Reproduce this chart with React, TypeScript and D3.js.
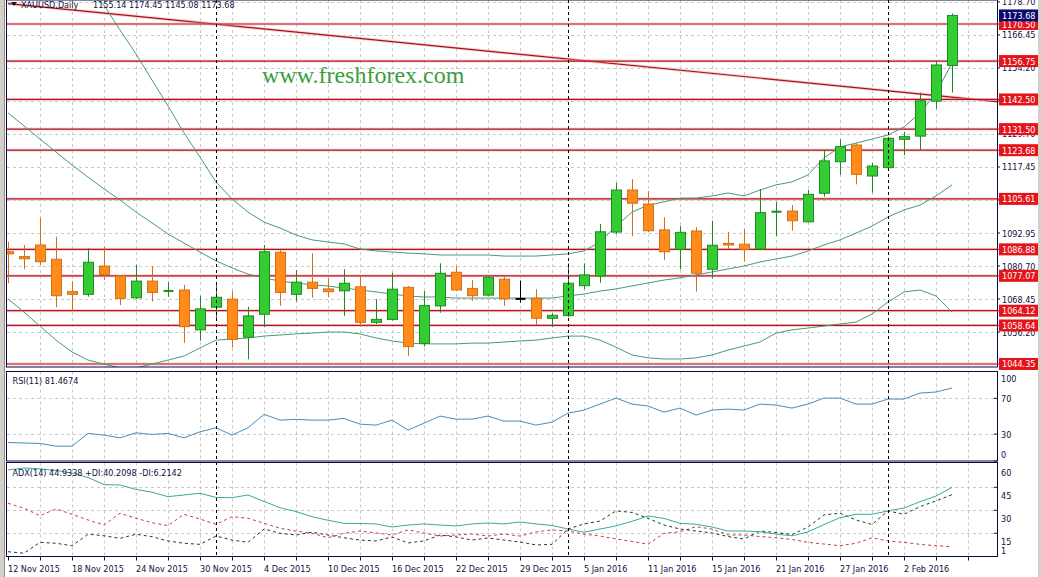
import React from 'react';
import * as d3 from 'd3';

const dates = [
  '12 Nov 2015','13 Nov 2015','16 Nov 2015','17 Nov 2015','18 Nov 2015','19 Nov 2015','20 Nov 2015','23 Nov 2015','24 Nov 2015','25 Nov 2015',
  '26 Nov 2015','27 Nov 2015','30 Nov 2015','1 Dec 2015','2 Dec 2015','3 Dec 2015','4 Dec 2015','7 Dec 2015','8 Dec 2015','9 Dec 2015',
  '10 Dec 2015','11 Dec 2015','14 Dec 2015','15 Dec 2015','16 Dec 2015','17 Dec 2015','18 Dec 2015','21 Dec 2015','22 Dec 2015','23 Dec 2015',
  '24 Dec 2015','28 Dec 2015','29 Dec 2015','30 Dec 2015','31 Dec 2015','4 Jan 2016','5 Jan 2016','6 Jan 2016','7 Jan 2016','8 Jan 2016',
  '11 Jan 2016','12 Jan 2016','13 Jan 2016','14 Jan 2016','15 Jan 2016','18 Jan 2016','19 Jan 2016','20 Jan 2016','21 Jan 2016','22 Jan 2016',
  '25 Jan 2016','26 Jan 2016','27 Jan 2016','28 Jan 2016','29 Jan 2016','1 Feb 2016','2 Feb 2016','3 Feb 2016','4 Feb 2016','5 Feb 2016',
];

const open = [1086.0,1084.2,1088.5,1083.2,1071.2,1070.2,1080.7,1077.0,1068.9,1075.1,1071.2,1071.8,1057.0,1065.4,1068.4,1054.3,1062.8,1085.8,1070.2,1074.7,1072.2,1071.5,1073.0,1059.8,1060.9,1072.8,1052.0,1065.9,1078.4,1072.4,1069.9,1075.8,1068.5,1068.7,1061.3,1062.3,1073.4,1077.0,1093.3,1108.9,1103.7,1094.1,1086.9,1093.7,1079.5,1089.1,1088.8,1087.0,1100.8,1101.1,1097.1,1107.7,1119.4,1125.6,1114.1,1117.2,1127.7,1128.9,1141.9,1155.14];
const high = [1089.7,1088.5,1098.5,1091.6,1075.1,1087.3,1087.9,1077.3,1081.1,1080.7,1074.9,1073.7,1069.6,1074.7,1071.4,1065.6,1088.5,1086.6,1079.2,1085.4,1076.1,1079.5,1077.0,1068.4,1078.2,1073.3,1071.4,1081.7,1080.7,1075.5,1076.7,1076.7,1075.3,1072.1,1063.2,1081.7,1081.7,1096.3,1111.5,1112.9,1108.5,1098.8,1095.6,1095.1,1097.5,1093.4,1094.4,1109.2,1104.6,1103.3,1108.9,1123.8,1127.7,1126.3,1118.9,1128.6,1130.5,1145.0,1156.9,1174.45];
const low = [1074.3,1079.5,1081.1,1065.4,1064.1,1069.3,1075.5,1066.2,1068.4,1067.5,1069.3,1052.2,1053.0,1061.3,1050.5,1046.1,1058.0,1066.0,1067.5,1068.9,1069.1,1062.2,1058.2,1059.2,1060.4,1047.3,1050.8,1063.4,1071.4,1067.8,1069.7,1065.9,1067.1,1058.8,1058.0,1061.8,1072.1,1074.5,1092.6,1091.8,1093.2,1082.9,1079.5,1071.2,1076.1,1086.9,1082.3,1086.9,1091.8,1093.8,1096.8,1106.4,1114.5,1111.0,1107.9,1117.1,1121.9,1123.8,1139.0,1145.08];
const close = [1085.2,1083.4,1082.3,1069.7,1070.2,1082.1,1077.6,1068.7,1075.1,1070.9,1071.7,1058.2,1064.8,1069.1,1053.5,1062.2,1086.0,1070.9,1074.7,1072.4,1071.2,1074.3,1059.8,1060.9,1072.1,1050.8,1066.0,1078.0,1071.8,1069.7,1076.5,1068.5,1068.5,1061.3,1062.4,1074.3,1077.4,1093.4,1108.9,1104.0,1093.8,1086.0,1093.2,1078.0,1088.4,1088.5,1086.9,1100.5,1100.9,1097.5,1107.3,1119.7,1125.0,1114.7,1117.8,1128.1,1128.7,1142.0,1155.3,1173.68];

const bbUpper = [1201.7,1198.0,1194.2,1190.5,1186.8,1182.4,1177.5,1168.3,1159.4,1149.7,1140.1,1130.1,1121.1,1111.9,1105.6,1100.7,1097.0,1094.8,1092.2,1090.4,1089.6,1088.9,1087.0,1086.3,1085.9,1085.5,1085.2,1084.8,1084.8,1084.8,1084.8,1084.4,1084.4,1084.4,1084.8,1085.2,1086.3,1089.6,1095.5,1100.7,1103.3,1104.5,1105.9,1105.9,1106.7,1107.8,1106.7,1108.9,1110.8,1111.9,1114.5,1120.8,1124.9,1126.3,1127.8,1129.3,1132.3,1137.5,1144.9,1156.0];
const bbMiddle = [1137.5,1132.7,1127.8,1123.0,1118.2,1113.7,1109.3,1105.2,1100.7,1096.7,1092.6,1089.2,1085.9,1082.6,1080.0,1077.7,1076.3,1075.1,1074.4,1073.7,1073.3,1072.5,1071.8,1071.1,1070.3,1069.6,1069.2,1069.2,1068.8,1068.8,1068.8,1068.8,1068.8,1068.8,1068.8,1069.6,1070.3,1071.4,1072.2,1073.3,1074.4,1075.5,1076.3,1077.4,1078.5,1079.6,1080.7,1082.2,1083.3,1084.4,1086.3,1088.5,1090.4,1092.9,1095.5,1098.9,1101.5,1103.3,1106.7,1110.8];
const bbLower = [1068.5,1063.6,1058.4,1053.2,1048.8,1045.8,1044.3,1042.9,1042.9,1044.3,1045.8,1047.3,1050.3,1053.2,1053.6,1054.0,1054.7,1055.1,1055.5,1055.8,1056.2,1056.2,1055.5,1054.0,1052.9,1052.1,1051.8,1051.8,1051.8,1052.1,1052.1,1052.5,1052.9,1053.2,1054.0,1054.7,1054.7,1053.2,1050.6,1047.7,1046.6,1046.2,1046.2,1046.6,1047.7,1049.5,1051.0,1052.5,1055.8,1057.0,1057.7,1058.4,1059.2,1059.9,1062.9,1067.3,1071.1,1071.8,1069.6,1063.6];

const rsi = [20.7,20.1,19.6,16.6,16.6,30.8,28.9,25.9,31.5,29.7,30.8,25.9,32.6,37.1,28.9,37.1,52.1,45.7,46.5,45.7,45.7,47.6,41.2,40.1,45.7,34.5,42.3,50.2,46.8,46.8,50.2,44.6,44.6,40.1,43.4,53.5,56.9,63.6,70.3,63.6,61.4,54.6,59.1,51.3,56.9,58.0,56.9,63.6,62.5,59.1,63.6,70.3,70.3,63.6,63.6,69.2,69.2,75.9,77.1,81.47];
const adx = [56.3,57.6,57.0,56.0,54.3,51.4,46.8,46.5,43.6,41.8,38.9,40.0,41.1,38.4,38.2,40.0,35.8,31.7,29.2,25.8,23.5,21.5,21.4,21.1,19.1,20.4,21.1,20.4,19.8,21.1,21.7,21.1,22.4,21.1,20.1,17.8,15.7,17.8,19.8,22.8,26.3,24.7,21.5,20.9,19.1,16.5,16.5,16.0,14.5,13.4,15.9,20.7,25.2,27.4,27.4,29.6,31.5,35.6,39.3,44.93];
const plusDI = [3.0,2.0,9.1,8.5,6.9,14.4,13.4,11.7,14.4,12.8,10.0,8.5,7.8,13.2,10.6,9.1,17.8,15.0,13.9,15.7,13.9,12.1,10.6,10.0,12.6,8.7,10.0,13.9,12.6,10.6,11.9,10.6,9.3,7.4,7.8,17.8,21.1,23.0,29.6,28.6,24.8,20.4,17.8,16.5,15.2,12.9,11.3,16.5,15.5,14.2,19.1,27.0,28.1,23.7,20.7,29.6,27.4,32.4,36.1,40.21];
const minusDI = [34.6,31.3,26.5,30.9,27.4,23.7,20.4,28.1,24.8,21.9,20.0,27.4,24.3,20.9,25.8,24.8,21.5,18.3,16.5,15.0,12.1,15.0,16.5,15.2,13.9,17.2,15.2,13.2,13.9,14.5,13.2,14.5,13.2,15.9,17.2,16.5,14.5,13.2,11.3,9.7,7.8,15.0,16.0,19.3,17.8,13.9,13.9,12.9,12.1,11.0,9.1,8.0,6.9,8.5,12.1,10.0,9.1,7.8,6.9,6.21];

const levels = [1170.50, 1156.75, 1142.50, 1131.50, 1123.68, 1105.61, 1086.88, 1077.07, 1064.12, 1058.64, 1044.35];
const priceTicks = [1178.70, 1166.45, 1154.20, 1141.95, 1129.70, 1117.45, 1105.20, 1092.95, 1080.70, 1068.45, 1056.20];
const rsiTicks = [100, 70, 30, 0];
const rsiLevels = [70, 30];
const adxTicks = [60, 45, 30, 15, 1];
const adxGrid = [45, 30, 15];
const trendBars = [0, 62];
const trendPrices = [1178.1, 1141.6];

const FONT = "'DejaVu Sans Condensed', 'DejaVu Sans', sans-serif";
const NAVY = '#10103c';

export default function App() {
  const W = 1041, H = 577;
  const L = 7, R = 997;
  const mainTop = 0, mainBot = 367;
  const rsiTop = 371.5, rsiBot = 461;
  const adxTop = 462.5, adxBot = 556.5;

  const n = dates.length;
  const x = d3.scaleLinear().domain([0, 61.8125]).range([8, 997]);
  const y = d3.scaleLinear().domain([1043.23, 1179.41]).range([367, 0]);
  const yR = d3.scaleLinear().domain([0, 100]).range([461, 371.5]);
  const yA = d3.scaleLinear().domain([0, 60]).range([556.3, 464.3]);

  const mk = (sc: any) => d3.line<number>().x((_, i) => x(i)).y((d) => sc(d));
  const lineMain = mk(y);
  const lineRsi = mk(yR);
  const lineAdx = mk(yA);

  const gridBars = d3.range(2, 64, 2).filter((i) => x(i) < R - 1);
  const labelBars = d3.range(0, n, 4);
  const month = (s: string) => s.split(' ')[1];
  const sepBars = d3.range(1, n).filter((i) => month(dates[i]) !== month(dates[i - 1]));

  const trendLine = d3.line<number>().x((b) => x(b)).y((_, i) => y(trendPrices[i]))(trendBars);

  const panels = [
    { t: mainTop, b: mainBot },
    { t: rsiTop, b: rsiBot },
    { t: adxTop, b: adxBot },
  ];

  const gridStyle = { stroke: '#c9c9c9', strokeWidth: 1, strokeDasharray: '3,3' } as const;

  return (
    <svg width={W} height={H} style={{ position: 'absolute', left: 0, top: 0, background: '#fff' }} fontFamily={FONT}>
      <defs>
        <clipPath id="cMain"><rect x={L} y={mainTop} width={R - L} height={mainBot - mainTop} /></clipPath>
        <clipPath id="cRsi"><rect x={L} y={rsiTop} width={R - L} height={rsiBot - rsiTop} /></clipPath>
        <clipPath id="cAdx"><rect x={L} y={adxTop} width={R - L} height={adxBot - adxTop} /></clipPath>
      </defs>
      <rect x={0} y={0} width={W} height={H} fill="#fff" />
      <rect x={0} y={0} width={5} height={H} fill="#d4d0c8" />
      <line x1={4.5} y1={0} x2={4.5} y2={H} stroke="#8c8c8c" />
      <rect x={1038} y={0} width={3} height={H} fill="#d4d0c8" />

      {/* vertical grid */}
      {panels.map((p, k) => (
        <g key={'vg' + k}>
          {gridBars.map((i) => (
            <line key={i} x1={Math.round(x(i)) + 0.5} x2={Math.round(x(i)) + 0.5} y1={p.t} y2={p.b} style={gridStyle} />
          ))}
        </g>
      ))}
      {/* horizontal grid */}
      {priceTicks.map((v) => (
        <line key={'hg' + v} x1={L} x2={R} y1={Math.round(y(v)) + 0.5} y2={Math.round(y(v)) + 0.5} style={gridStyle} />
      ))}
      {rsiLevels.map((v) => (
        <line key={'rg' + v} x1={L} x2={R} y1={Math.round(yR(v)) + 0.5} y2={Math.round(yR(v)) + 0.5} style={gridStyle} />
      ))}
      {adxGrid.map((v) => (
        <line key={'ag' + v} x1={L} x2={R} y1={Math.round(yA(v)) + 0.5} y2={Math.round(yA(v)) + 0.5} style={gridStyle} />
      ))}

      {/* watermark */}
      <text x={262} y={83} fontFamily="'Liberation Serif', 'DejaVu Serif', serif" fontSize={24} fill="#38a03c">www.freshforex.com</text>

      {/* main panel content */}
      <g clipPath="url(#cMain)">
        <path d={trendLine || ''} stroke="#f3b0b0" strokeWidth={3} fill="none" opacity={0.6} />
        <path d={trendLine || ''} stroke="#a8101a" strokeWidth={1.2} fill="none" />
        {levels.map((v) => (
          <g key={'lv' + v}>
            <line x1={L} x2={R} y1={y(v)} y2={y(v)} stroke="#f3b0b0" strokeWidth={3} opacity={0.5} />
            <line x1={L} x2={R} y1={y(v)} y2={y(v)} stroke="#b3121c" strokeWidth={1.2} />
          </g>
        ))}
        <path d={lineMain(bbUpper) || ''} stroke="#479a78" strokeWidth={1} fill="none" />
        <path d={lineMain(bbMiddle) || ''} stroke="#479a78" strokeWidth={1} fill="none" />
        <path d={lineMain(bbLower) || ''} stroke="#479a78" strokeWidth={1} fill="none" />
        {d3.range(n).map((i) => {
          const cx = Math.round(x(i)) + 0.5;
          const o = open[i], c = close[i];
          const bull = c > o, doji = c === o;
          const edge = doji ? '#000' : bull ? '#1f8a1f' : '#d2701a';
          const fill = bull ? '#33cc33' : '#ff8c1a';
          const top = y(Math.max(o, c)), bot = y(Math.min(o, c));
          return (
            <g key={'c' + i}>
              <line x1={cx} x2={cx} y1={y(high[i])} y2={y(low[i])} stroke={edge} strokeWidth={1} />
              {doji || bot - top < 1.5 ? (
                <line x1={cx - 5} x2={cx + 5} y1={(top + bot) / 2} y2={(top + bot) / 2} stroke={edge} strokeWidth={2} />
              ) : (
                <rect x={cx - 5} y={top} width={10} height={bot - top} fill={fill} stroke={edge} strokeWidth={1} />
              )}
            </g>
          );
        })}
      </g>

      {/* RSI */}
      <g clipPath="url(#cRsi)">
        <path d={lineRsi(rsi) || ''} stroke="#4a8db8" strokeWidth={1} fill="none" />
      </g>

      {/* ADX */}
      <g clipPath="url(#cAdx)">
        <path d={lineAdx(minusDI) || ''} stroke="#cc3a3a" strokeWidth={1} strokeDasharray="3,3" fill="none" />
        <path d={lineAdx(plusDI) || ''} stroke="#1f3f22" strokeWidth={1} strokeDasharray="3,3" fill="none" />
        <path d={lineAdx(adx) || ''} stroke="#3aa8a0" strokeWidth={1} fill="none" />
      </g>

      {/* period separators */}
      {sepBars.map((i) => (
        <line key={'sep' + i} x1={Math.round(x(i)) + 0.5} x2={Math.round(x(i)) + 0.5} y1={0} y2={adxBot} stroke="#000" strokeWidth={1} strokeDasharray="3,3" />
      ))}

      {/* panel borders */}
      {panels.map((p, k) => (
        <rect key={'pb' + k} x={L - 0.5} y={p.t} width={R - L + 1} height={p.b - p.t} fill="none" stroke="#0a0a40" strokeWidth={1} />
      ))}

      {/* right axis: main */}
      {priceTicks.map((v) => (
        <g key={'pt' + v}>
          <line x1={R} x2={R + 3} y1={y(v)} y2={y(v)} stroke={NAVY} />
          <text x={1002} y={y(v) + 3.5} fontSize={9} fill={NAVY}>{v.toFixed(2)}</text>
        </g>
      ))}
      {levels.map((v) => (
        <g key={'lb' + v}>
          <line x1={R} x2={R + 3} y1={y(v)} y2={y(v)} stroke="#b3121c" />
          <rect x={999} y={y(v) - 6} width={39} height={12} fill="#e5141b" />
          <text x={1002} y={y(v) + 3.5} fontSize={9} fill="#fff">{v.toFixed(2)}</text>
        </g>
      ))}
      <rect x={999} y={y(close[n - 1]) - 6} width={39} height={12} fill="#0b0b6e" />
      <text x={1002} y={y(close[n - 1]) + 3.5} fontSize={9} fill="#fff">{close[n - 1].toFixed(2)}</text>

      {/* right axis: RSI */}
      {rsiTicks.map((v) => {
        const yy = Math.min(Math.max(yR(v), rsiTop + 6.5), rsiBot - 6.5);
        return (
          <g key={'rt' + v}>
            <line x1={R - 3} x2={R} y1={yR(v)} y2={yR(v)} stroke={NAVY} />
            <text x={1001} y={yy + 3.5} fontSize={9} fill={NAVY}>{v}</text>
          </g>
        );
      })}
      {/* right axis: ADX */}
      {adxTicks.map((v) => {
        const yy = Math.min(Math.max(yA(v) + 8.5, adxTop + 8.5), adxBot - 6.5);
        return (
          <g key={'at' + v}>
            {v !== 1 && v !== 60 && <line x1={R - 3} x2={R} y1={yA(v)} y2={yA(v)} stroke={NAVY} />}
            <text x={1001} y={yy + 3.5} fontSize={9} fill={NAVY}>{v}</text>
          </g>
        );
      })}

      {/* bottom axis */}
      {gridBars.concat([0]).map((i) => (
        <line key={'bt' + i} x1={Math.round(x(i)) + 0.5} x2={Math.round(x(i)) + 0.5} y1={adxBot} y2={adxBot + 4} stroke={NAVY} />
      ))}
      {labelBars.map((i) => (
        <text key={'bl' + i} x={x(i)} y={572} fontSize={9} fill={NAVY}>{dates[i]}</text>
      ))}

      {/* headers */}
      <path d="M11,2 L17,2 L14,6 Z" fill={NAVY} />
      <text x={21} y={7.5} fontSize={9} fill={NAVY}>XAUUSD,Daily</text>
      <text x={93} y={7.5} fontSize={9} fill={NAVY}>{`${open[n - 1].toFixed(2)} ${high[n - 1].toFixed(2)} ${low[n - 1].toFixed(2)} ${close[n - 1].toFixed(2)}`}</text>
      <text x={12.5} y={383.5} fontSize={9} fill={NAVY}>{`RSI(11) ${'81.4674'}`}</text>
      <text x={12.5} y={475.5} fontSize={9} fill={NAVY}>{'ADX(14) 44.9338 +DI:40.2098 -DI:6.2142'}</text>
    </svg>
  );
}
